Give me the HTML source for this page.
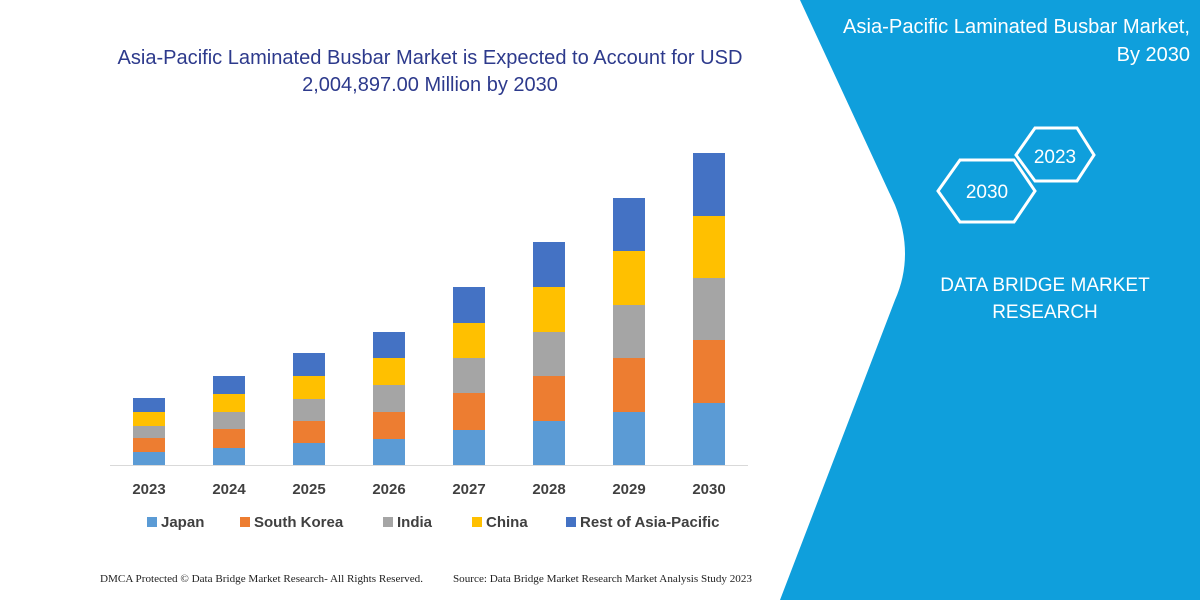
<!DOCTYPE html>
<html><head><style>
body{margin:0;width:1200px;height:600px;overflow:hidden;background:#fff;font-family:"Liberation Sans",sans-serif;}
</style></head><body>
<svg width="1200" height="600" viewBox="0 0 1200 600" xmlns="http://www.w3.org/2000/svg" style="position:absolute;left:0;top:0">
<path d="M800,0 L1200,0 L1200,600 L780,600 L895,300 Q915,255 895,205 Z" fill="#0f9fdc"/>
<g font-family="Liberation Sans, sans-serif" fill="#2d3a8c" font-size="20" text-anchor="middle">
<text x="430" y="64" textLength="625" lengthAdjust="spacingAndGlyphs">Asia-Pacific Laminated Busbar Market is Expected to Account for USD</text>
<text x="430" y="91">2,004,897.00 Million by 2030</text>
</g>
<g fill="#fff" font-size="20" text-anchor="end" font-family="Liberation Sans, sans-serif">
<text x="1190" y="33" textLength="347" lengthAdjust="spacingAndGlyphs">Asia-Pacific Laminated Busbar Market,</text>
<text x="1190" y="61">By 2030</text>
</g>
<polygon points="1016,155 1035,128 1077,128 1094,155 1077,181 1035,181" fill="none" stroke="#fff" stroke-width="3"/>
<text x="1055" y="163" fill="#fff" font-size="19" text-anchor="middle">2023</text>
<polygon points="938,191 960,160 1014,160 1035,191 1014,222 960,222" fill="none" stroke="#fff" stroke-width="3"/>
<text x="987" y="198" fill="#fff" font-size="19" text-anchor="middle">2030</text>
<g fill="#fff" font-size="19" text-anchor="middle">
<text x="1045" y="291">DATA BRIDGE MARKET</text>
<text x="1045" y="318">RESEARCH</text>
</g>
<line x1="110" y1="465.5" x2="748" y2="465.5" stroke="#d9d9d9" stroke-width="1"/>
<g id="bars"></g>
<g font-size="15" font-weight="bold" fill="#404040" text-anchor="middle">
<text x="149" y="494">2023</text><text x="229" y="494">2024</text><text x="309" y="494">2025</text><text x="389" y="494">2026</text>
<text x="469" y="494">2027</text><text x="549" y="494">2028</text><text x="629" y="494">2029</text><text x="709" y="494">2030</text>
</g>
<g font-size="15" font-weight="bold" fill="#404040">
<rect x="147" y="517" width="10" height="10" fill="#5b9bd5"/><text x="161" y="527">Japan</text>
<rect x="240" y="517" width="10" height="10" fill="#ed7d31"/><text x="254" y="527">South Korea</text>
<rect x="383" y="517" width="10" height="10" fill="#a5a5a5"/><text x="397" y="527">India</text>
<rect x="472" y="517" width="10" height="10" fill="#ffc000"/><text x="486" y="527">China</text>
<rect x="566" y="517" width="10" height="10" fill="#4472c4"/><text x="580" y="527">Rest of Asia-Pacific</text>
</g>
<g font-family="Liberation Serif, serif" font-size="10.5" fill="#222">
<text x="100" y="582" textLength="323" lengthAdjust="spacingAndGlyphs">DMCA Protected © Data Bridge Market Research-  All Rights Reserved.</text>
<text x="453" y="582" textLength="299" lengthAdjust="spacingAndGlyphs">Source: Data Bridge Market Research  Market Analysis Study 2023</text>
</g>
</svg>
<script>
var d=[[133,398,412,426,438,452],[213,376,394,412,429,448],[293,353,376,399,421,443],[373,332,358,385,412,439],[453,287,323,358,393,430],[533,242,287,332,376,421],[613,198,251,305,358,412],[693,153,216,278,340,403]];
var c=["#4472c4","#ffc000","#a5a5a5","#ed7d31","#5b9bd5"];var s="";
d.forEach(function(b){var y=b.slice(1).concat([465]);for(var i=0;i<5;i++){s+='<rect x="'+b[0]+'" y="'+y[i]+'" width="32" height="'+(y[i+1]-y[i])+'" fill="'+c[i]+'"/>';}});
document.getElementById("bars").innerHTML=s;
</script>
</body></html>
